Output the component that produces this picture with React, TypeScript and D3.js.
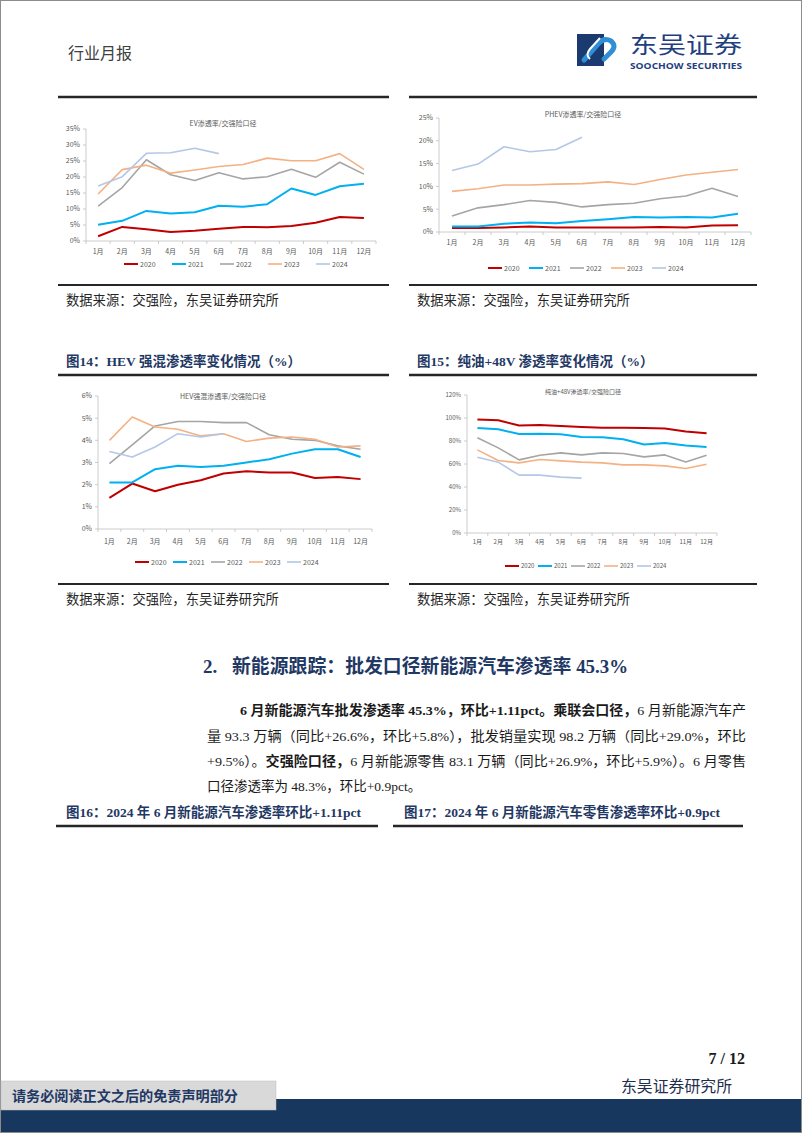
import * as React from "react"
import * as d3 from "d3"

const months = ["1月", "2月", "3月", "4月", "5月", "6月", "7月", "8月", "9月", "10月", "11月", "12月"]
const years = ["2020", "2021", "2022", "2023", "2024"]
const yearColors = ["#C00000", "#00B0F0", "#A5A5A5", "#F4B183", "#B4C7E7"]
const yearWidths = [2, 2, 1.6, 1.6, 1.6]

// EV 渗透率/交强险口径 (%)
const ev2020 = [1.5, 4.4, 3.7, 2.8, 3.2, 3.8, 4.4, 4.3, 4.7, 5.7, 7.5, 7.2]
const ev2021 = [5.1, 6.3, 9.4, 8.6, 9.0, 11.0, 10.7, 11.5, 16.4, 14.4, 17.1, 17.9]
const ev2022 = [10.9, 16.7, 25.4, 20.7, 18.9, 21.3, 19.4, 20.1, 22.4, 19.9, 24.6, 20.9]
const ev2023 = [14.7, 22.3, 23.7, 21.2, 22.2, 23.3, 23.9, 25.9, 25.1, 25.1, 27.3, 22.4]
const ev2024 = [17.2, 20.1, 27.4, 27.6, 29.0, 27.3]

// PHEV 渗透率/交强险口径 (%)
const phev2020 = [0.9, 0.9, 1.0, 1.2, 1.0, 1.0, 1.0, 1.0, 1.1, 1.0, 1.4, 1.5]
const phev2021 = [1.2, 1.2, 1.8, 2.1, 1.9, 2.4, 2.8, 3.3, 3.2, 3.3, 3.2, 4.0]
const phev2022 = [3.5, 5.3, 6.0, 6.9, 6.5, 5.5, 6.0, 6.3, 7.3, 7.9, 9.6, 7.8]
const phev2023 = [8.9, 9.5, 10.3, 10.3, 10.5, 10.6, 11.0, 10.4, 11.5, 12.5, 13.1, 13.7]
const phev2024 = [13.5, 14.9, 18.7, 17.6, 18.1, 20.8]

// HEV 强混渗透率/交强险口径 (%)
const hev2020 = [1.4, 2.05, 1.7, 2.0, 2.2, 2.5, 2.6, 2.55, 2.55, 2.3, 2.35, 2.25]
const hev2021 = [2.1, 2.1, 2.7, 2.85, 2.8, 2.85, 3.0, 3.15, 3.4, 3.6, 3.6, 3.25]
const hev2022 = [2.95, 3.8, 4.65, 4.85, 4.85, 4.8, 4.8, 4.25, 4.05, 4.0, 3.75, 3.6]
const hev2023 = [4.0, 5.05, 4.6, 4.5, 4.2, 4.3, 3.95, 4.1, 4.15, 4.05, 3.7, 3.75]
const hev2024 = [3.5, 3.25, 3.7, 4.3, 4.15, 4.3]

// 纯油+48V 渗透率/交强险口径 (%)
const ice2020 = [98.8, 98.0, 93.4, 94.0, 93.1, 92.2, 91.6, 91.6, 91.4, 90.8, 88.2, 86.7]
const ice2021 = [91.4, 90.2, 86.1, 86.4, 85.8, 83.5, 83.2, 81.5, 76.9, 78.3, 76.0, 74.8]
const ice2022 = [82.9, 74.0, 63.6, 67.6, 69.7, 67.9, 69.7, 69.1, 66.2, 67.9, 61.8, 67.6]
const ice2023 = [72.3, 63.0, 61.0, 63.9, 62.7, 61.6, 61.0, 59.2, 59.2, 58.4, 56.1, 59.8]
const ice2024 = [65.9, 61.6, 50.3, 50.3, 48.6, 47.7]

const chartFont = "'Noto Sans CJK SC', 'Noto Sans', sans-serif"
const serifFont = "'Liberation Serif', 'Noto Sans CJK SC', serif"
const navy = "#1F3864"

interface ChartSpec {
  title: string
  series: number[][]
  yMax: number
  yStep: number
  left: number
  right: number
  top: number
  bottom: number
  titleX: number
  titleY: number
  labelY: number
  legendX: number
  legendGap: number
  legendY: number
  font: number
}

const charts: ChartSpec[] = [
  {
    title: "EV渗透率/交强险口径",
    series: [ev2020, ev2021, ev2022, ev2023, ev2024],
    yMax: 35, yStep: 5,
    left: 86, right: 376, top: 129, bottom: 241,
    titleX: 223, titleY: 125.5, labelY: 253.5,
    legendX: 124, legendGap: 48, legendY: 264, font: 7,
  },
  {
    title: "PHEV渗透率/交强险口径",
    series: [phev2020, phev2021, phev2022, phev2023, phev2024],
    yMax: 25, yStep: 5,
    left: 439, right: 751, top: 118, bottom: 232,
    titleX: 583, titleY: 116.5, labelY: 244.5,
    legendX: 488, legendGap: 41, legendY: 268, font: 7,
  },
  {
    title: "HEV强混渗透率/交强险口径",
    series: [hev2020, hev2021, hev2022, hev2023, hev2024],
    yMax: 6, yStep: 1,
    left: 98, right: 372, top: 396, bottom: 529,
    titleX: 223, titleY: 398.5, labelY: 543.5,
    legendX: 135, legendGap: 38, legendY: 562, font: 7,
  },
  {
    title: "纯油+48V渗透率/交强险口径",
    series: [ice2020, ice2021, ice2022, ice2023, ice2024],
    yMax: 120, yStep: 20,
    left: 467, right: 717, top: 395, bottom: 533,
    titleX: 583, titleY: 394, labelY: 544,
    legendX: 505, legendGap: 33, legendY: 566, font: 6,
  },
]

function drawChart(g: d3.Selection<SVGGElement, unknown, null, undefined>, c: ChartSpec) {
  const x = d3.scaleBand<string>().domain(months).range([c.left, c.right])
  const y = d3.scaleLinear().domain([0, c.yMax]).range([c.bottom, c.top])
  const bw = x.bandwidth()
  const axisColor = "#BFBFBF"
  const textColor = "#595959"

  // title
  g.append("text")
    .attr("x", c.titleX)
    .attr("y", c.titleY)
    .attr("text-anchor", "middle")
    .attr("font-size", c.font)
    .attr("fill", textColor)
    .text(c.title)

  // y axis
  g.append("line")
    .attr("x1", c.left).attr("x2", c.left)
    .attr("y1", c.top).attr("y2", c.bottom)
    .attr("stroke", axisColor).attr("stroke-width", 0.8)
  const yTicks = d3.range(0, c.yMax + c.yStep / 2, c.yStep)
  g.selectAll(".ytick")
    .data(yTicks)
    .join("line")
    .attr("class", "ytick")
    .attr("x1", c.left - 3).attr("x2", c.left)
    .attr("y1", (d) => y(d)).attr("y2", (d) => y(d))
    .attr("stroke", axisColor).attr("stroke-width", 0.8)
  g.selectAll(".ylabel")
    .data(yTicks)
    .join("text")
    .attr("class", "ylabel")
    .attr("x", c.left - 6)
    .attr("y", (d) => y(d) + c.font * 0.35)
    .attr("text-anchor", "end")
    .attr("font-size", c.font)
    .attr("fill", textColor)
    .text((d) => `${d}%`)

  // x axis
  g.append("line")
    .attr("x1", c.left).attr("x2", c.right)
    .attr("y1", c.bottom).attr("y2", c.bottom)
    .attr("stroke", axisColor).attr("stroke-width", 0.8)
  const bounds = [...months.map((m) => x(m) as number), c.right]
  g.selectAll(".xtick")
    .data(bounds)
    .join("line")
    .attr("class", "xtick")
    .attr("x1", (d) => d).attr("x2", (d) => d)
    .attr("y1", c.bottom).attr("y2", c.bottom + 3)
    .attr("stroke", axisColor).attr("stroke-width", 0.8)
  g.selectAll(".xlabel")
    .data(months)
    .join("text")
    .attr("class", "xlabel")
    .attr("x", (d) => (x(d) as number) + bw / 2)
    .attr("y", c.labelY)
    .attr("text-anchor", "middle")
    .attr("font-size", c.font)
    .attr("fill", textColor)
    .text((d) => d)

  // lines
  const line = d3
    .line<number>()
    .x((_, i) => (x(months[i]) as number) + bw / 2)
    .y((d) => y(d))
  g.selectAll(".series")
    .data(c.series)
    .join("path")
    .attr("class", "series")
    .attr("d", (d) => line(d))
    .attr("fill", "none")
    .attr("stroke", (_, i) => yearColors[i])
    .attr("stroke-width", (_, i) => yearWidths[i])
    .attr("stroke-linejoin", "round")

  // legend
  const item = g
    .selectAll(".legend")
    .data(years)
    .join("g")
    .attr("class", "legend")
    .attr("transform", (_, i) => `translate(${c.legendX + i * c.legendGap},${c.legendY})`)
  item.append("line")
    .attr("x1", 0).attr("x2", 14)
    .attr("y1", 0).attr("y2", 0)
    .attr("stroke", (_, i) => yearColors[i])
    .attr("stroke-width", (_, i) => yearWidths[i])
  item.append("text")
    .attr("x", 16)
    .attr("y", c.font * 0.36)
    .attr("font-size", c.font)
    .attr("fill", textColor)
    .text((d) => d)
}

export default function App(): React.JSX.Element {
  const svgRef = React.useRef<SVGSVGElement>(null)

  React.useEffect(() => {
    const root = d3.select(svgRef.current).select<SVGGElement>("g.charts")
    root.selectAll("*").remove()
    charts.forEach((c) => {
      const g = root.append("g").attr("font-family", chartFont)
      drawChart(g, c)
    })
  }, [])

  const rule = (x1: number, x2: number, yy: number, w = 2) => (
    <line x1={x1} x2={x2} y1={yy} y2={yy} stroke="#262626" strokeWidth={w} />
  )

  return (
    <svg
      ref={svgRef}
      width={802}
      height={1133}
      style={{ position: "absolute", left: 0, top: 0, background: "#fff" }}
      fontFamily={serifFont}
    >
      <rect x={0.5} y={0.5} width={801} height={1132} fill="#fff" stroke="#8C8C8C" />

      {/* header */}
      <text x={68} y={59} fontSize={16} fill="#404040">行业月报</text>
      <g>
        <rect x={577} y={34} width={27} height={32} fill="#1B3A6F" />
        <path d="M 584 60 L 598 44 Q 604 37 611 41 Q 617 46 611 52 L 604 59"
          fill="none" stroke="#2E8FD6" strokeWidth={5} strokeLinecap="round" />
        <path d="M 600 38 L 590 49 Q 585 55 590 59"
          fill="none" stroke="#fff" strokeWidth={2} />
        <text x={630} y={53} fontSize={23} fill="#1F3F7F" fontFamily={chartFont} textLength={112} lengthAdjust="spacingAndGlyphs">东吴证券</text>
        <text x={630} y={68.5} fontSize={8.5} fontWeight="bold" fill="#1F3F7F" fontFamily="'Open Sans', sans-serif" textLength={112} lengthAdjust="spacingAndGlyphs">SOOCHOW SECURITIES</text>
      </g>

      {/* chart frames */}
      {rule(58, 389, 97, 2.5)}
      {rule(409, 757, 97, 2.5)}
      {rule(58, 389, 285, 2)}
      {rule(409, 757, 285, 2)}
      <text x={66} y={305} fontSize={13.3} fill="#262626">数据来源：交强险，东吴证券研究所</text>
      <text x={417} y={305} fontSize={13.3} fill="#262626">数据来源：交强险，东吴证券研究所</text>

      <text x={66} y={366} fontSize={13.5} fontWeight="bold" fill={navy}>图14：HEV 强混渗透率变化情况（%）</text>
      <text x={417} y={366} fontSize={13.5} fontWeight="bold" fill={navy}>图15：纯油+48V 渗透率变化情况（%）</text>
      {rule(58, 389, 375, 2.5)}
      {rule(409, 757, 375, 2.5)}
      {rule(58, 389, 584, 2)}
      {rule(409, 757, 584, 2)}
      <text x={66} y={604} fontSize={13.3} fill="#262626">数据来源：交强险，东吴证券研究所</text>
      <text x={417} y={604} fontSize={13.3} fill="#262626">数据来源：交强险，东吴证券研究所</text>

      {/* section */}
      <text x={203} y={673} fontSize={19} fontWeight="bold" fill={navy}>2.</text>
      <text x={232} y={673} fontSize={19} fontWeight="bold" fill={navy} textLength={396} lengthAdjust="spacingAndGlyphs">新能源跟踪：批发口径新能源汽车渗透率 45.3%</text>

      <g fontSize={13.5} fill="#1a1a1a">
        <text x={240} y={715} textLength={506} lengthAdjust="spacingAndGlyphs">
          <tspan fontWeight="bold">6 月新能源汽车批发渗透率 45.3%，环比+1.11pct。乘联会口径，</tspan>
          <tspan>6 月新能源汽车产</tspan>
        </text>
        <text x={207} y={741} textLength={539} lengthAdjust="spacingAndGlyphs">量 93.3 万辆（同比+26.6%，环比+5.8%），批发销量实现 98.2 万辆（同比+29.0%，环比</text>
        <text x={207} y={766} textLength={539} lengthAdjust="spacingAndGlyphs">
          <tspan>+9.5%）。</tspan>
          <tspan fontWeight="bold">交强险口径，</tspan>
          <tspan>6 月新能源零售 83.1 万辆（同比+26.9%，环比+5.9%）。6 月零售</tspan>
        </text>
        <text x={207} y={791}>口径渗透率为 48.3%，环比+0.9pct。</text>
      </g>

      <text x={66} y={817} fontSize={13.5} fontWeight="bold" fill={navy}>图16：2024 年 6 月新能源汽车渗透率环比+1.11pct</text>
      <text x={404} y={817} fontSize={13.5} fontWeight="bold" fill={navy}>图17：2024 年 6 月新能源汽车零售渗透率环比+0.9pct</text>
      {rule(56, 378, 826, 2.5)}
      {rule(393, 743, 826, 2.5)}

      {/* footer */}
      <text x={745} y={1064} fontSize={16} fontWeight="bold" textAnchor="end" fill="#1a1a1a">7 / 12</text>
      <text x={621} y={1092} fontSize={16} fill="#1F2F4F" textLength={111} lengthAdjust="spacingAndGlyphs">东吴证券研究所</text>
      <rect x={1} y={1099} width={800} height={33} fill="#17375E" />
      <rect x={1} y={1081} width={275} height={29} fill="#D9D9D9" stroke="#BFBFBF" strokeWidth={0.5} />
      <text x={12} y={1101} fontSize={14} fontWeight="bold" fill={navy} textLength={226} lengthAdjust="spacingAndGlyphs">请务必阅读正文之后的免责声明部分</text>

      <g className="charts"></g>
    </svg>
  )
}
